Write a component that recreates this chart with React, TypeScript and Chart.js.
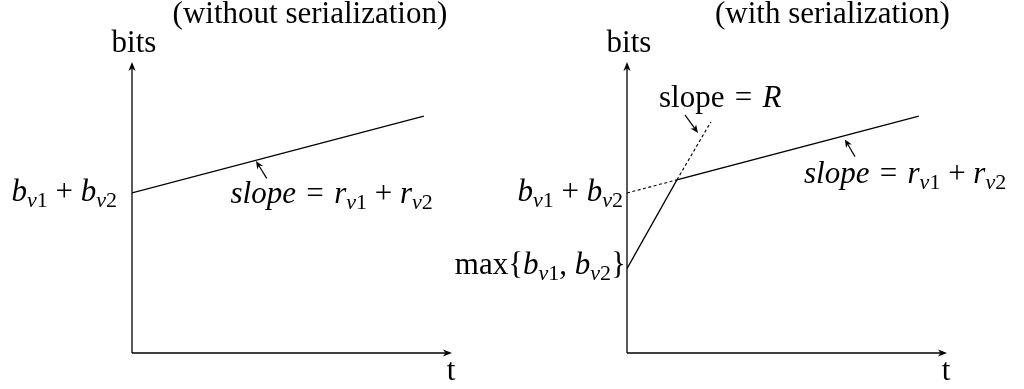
import React, { useEffect, useRef } from 'react';
import { Chart, registerables } from 'chart.js';

Chart.register(...registerables);

// Both axes run over arbitrary units 0..10
const T_RANGE = [0, 10];
const BITS_RANGE = [0, 10];

// Without serialization: one envelope, burst b_v1 + b_v2, rate r_v1 + r_v2
const plainT = [0, 9.12];
const plainBits = [5.5, 8.14];

// With serialization: line rate R up to the knee, then r_v1 + r_v2
const serialT = [0, 1.56, 9.12];
const serialBits = [2.9, 5.95, 8.14];

// Dashed: the aggregate envelope before the knee
const aggregateExtT = [0, 1.56];
const aggregateExtBits = [5.5, 5.95];

// Dashed: the line-rate segment continued past the knee
const lineRateExtT = [1.56, 2.62];
const lineRateExtBits = [5.95, 7.94];

type Run = { t: string; it?: boolean; sub?: boolean };
type Align = 'left' | 'center' | 'right';
type Note = { runs: Run[]; t: number; bits: number; align: Align };
type Pointer = { from: [number, number]; to: [number, number] };
type Level = { value: number; runs: Run[]; gap: number; drop: number };

const FONT = '"Liberation Serif", "Times New Roman", serif';
const F = 31;
const SUB = 0.7;
const EQ = '\u2004=\u2004';

const B_SUM: Run[] = [
  { t: 'b', it: true }, { t: 'v', it: true, sub: true }, { t: '1', sub: true },
  { t: ' + ' },
  { t: 'b', it: true }, { t: 'v', it: true, sub: true }, { t: '2', sub: true },
];
const B_MAX: Run[] = [
  { t: 'max{' },
  { t: 'b', it: true }, { t: 'v', it: true, sub: true }, { t: '1', sub: true },
  { t: ', ' },
  { t: 'b', it: true }, { t: 'v', it: true, sub: true }, { t: '2', sub: true },
  { t: '}' },
];
const SLOPE_SUM: Run[] = [
  { t: 'slope', it: true }, { t: EQ },
  { t: 'r', it: true }, { t: 'v', it: true, sub: true }, { t: '1', sub: true },
  { t: ' + ' },
  { t: 'r', it: true }, { t: 'v', it: true, sub: true }, { t: '2', sub: true },
];
const SLOPE_R: Run[] = [{ t: 'slope' + EQ }, { t: 'R', it: true }];

const pts = (xs: number[], ys: number[]) => xs.map((x, i) => ({ x, y: ys[i] }));

type Panel = {
  title: string;
  titleT: number;
  canvasLeft: number;
  canvasWidth: number;
  padding: { left: number; right: number; top: number; bottom: number };
  datasets: any[];
  levels: Level[];
  notes: Note[];
  pointers: Pointer[];
};

const solid = (data: { x: number; y: number }[]) => ({
  data, borderColor: '#000', borderWidth: 1.25, pointRadius: 0, tension: 0, fill: false,
});
const dashed = (data: { x: number; y: number }[]) => ({
  ...solid(data), borderWidth: 1.1, borderDash: [3, 2.5],
});

const LEFT_PANEL: Panel = {
  title: '(without serialization)',
  titleT: 5.56,
  canvasLeft: 0,
  canvasWidth: 512,
  padding: { left: 132, right: 60, top: 62, bottom: 36 },
  datasets: [solid(pts(plainT, plainBits))],
  levels: [{ value: plainBits[0], runs: B_SUM, gap: 15, drop: 8 }],
  notes: [{ runs: SLOPE_SUM, t: 3.08, bits: 5.15, align: 'left' }],
  pointers: [{ from: [4.21, 6.0], to: [3.875, 6.6] }],
};

const RIGHT_PANEL: Panel = {
  title: '(with serialization)',
  titleT: 6.42,
  canvasLeft: 400,
  canvasWidth: 624,
  padding: { left: 227, right: 77, top: 62, bottom: 36 },
  datasets: [
    solid(pts(serialT, serialBits)),
    dashed(pts(aggregateExtT, aggregateExtBits)),
    dashed(pts(lineRateExtT, lineRateExtBits)),
  ],
  levels: [
    { value: aggregateExtBits[0], runs: B_SUM, gap: 4, drop: 8 },
    { value: serialBits[0], runs: B_MAX, gap: 1, drop: 5 },
  ],
  notes: [
    { runs: SLOPE_R, t: 1.0, bits: 8.45, align: 'left' },
    { runs: SLOPE_SUM, t: 5.53, bits: 5.84, align: 'left' },
  ],
  pointers: [
    { from: [1.81, 8.18], to: [2.22, 7.56] },
    { from: [7.125, 6.75], to: [6.81, 7.34] },
  ],
};

function runFont(r: Run) {
  const size = r.sub ? Math.round(F * SUB) : F;
  return `${r.it ? 'italic ' : ''}${size}px ${FONT}`;
}

function drawRuns(ctx: CanvasRenderingContext2D, runs: Run[], x: number, y: number, align: Align) {
  ctx.save();
  ctx.fillStyle = '#000';
  ctx.textAlign = 'left';
  ctx.textBaseline = 'alphabetic';
  const widths = runs.map((r) => {
    ctx.font = runFont(r);
    return ctx.measureText(r.t).width;
  });
  const total = widths.reduce((a, b) => a + b, 0);
  let cx = align === 'left' ? x : align === 'right' ? x - total : x - total / 2;
  runs.forEach((r, i) => {
    ctx.font = runFont(r);
    ctx.fillText(r.t, cx, y + (r.sub ? F * 0.19 : 0));
    cx += widths[i];
  });
  ctx.restore();
}

function arrowHead(ctx: CanvasRenderingContext2D, x: number, y: number, angle: number, len: number, half: number) {
  ctx.save();
  ctx.translate(x, y);
  ctx.rotate(angle);
  ctx.beginPath();
  ctx.moveTo(0, 0);
  ctx.lineTo(-len, -half);
  ctx.lineTo(-len * 0.72, 0);
  ctx.lineTo(-len, half);
  ctx.closePath();
  ctx.fill();
  ctx.restore();
}

function arrow(ctx: CanvasRenderingContext2D, x1: number, y1: number, x2: number, y2: number, width: number, len: number, half: number) {
  const ang = Math.atan2(y2 - y1, x2 - x1);
  ctx.save();
  ctx.strokeStyle = '#000';
  ctx.fillStyle = '#000';
  ctx.lineWidth = width;
  ctx.beginPath();
  ctx.moveTo(x1, y1);
  ctx.lineTo(x2 - Math.cos(ang) * len * 0.7, y2 - Math.sin(ang) * len * 0.7);
  ctx.stroke();
  arrowHead(ctx, x2, y2, ang, len, half);
  ctx.restore();
}

function makeDecor(panel: Panel) {
  return {
    id: 'panelDecor',
    afterDraw(chart: Chart) {
      const ctx = chart.ctx;
      const xs = chart.scales.x;
      const ys = chart.scales.y;
      const { left, right, top, bottom } = chart.chartArea;
      const px = (t: number) => xs.getPixelForValue(t);
      const py = (b: number) => ys.getPixelForValue(b);

      // axes with arrow tips
      arrow(ctx, left, bottom, left, top, 1.3, 9, 3.6);
      arrow(ctx, left, bottom, right, bottom, 1.3, 9, 3.6);

      // axis names
      drawRuns(ctx, [{ t: 'bits' }], left + 2, top - 10, 'center');
      drawRuns(ctx, [{ t: 't' }], right - 1, bottom + 27, 'center');

      // panel title
      drawRuns(ctx, [{ t: panel.title }], px(panel.titleT), top - 39, 'center');

      // levels marked on the bits axis
      panel.levels.forEach((lv) => {
        drawRuns(ctx, lv.runs, left - lv.gap, py(lv.value) + lv.drop, 'right');
      });

      // slope notes and their pointers
      panel.notes.forEach((n) => drawRuns(ctx, n.runs, px(n.t), py(n.bits), n.align));
      panel.pointers.forEach((p) => {
        arrow(ctx, px(p.from[0]), py(p.from[1]), px(p.to[0]), py(p.to[1]), 1.2, 8, 3.4);
      });
    },
  };
}

function PanelChart({ panel }: { panel: Panel }) {
  const ref = useRef<HTMLCanvasElement>(null);
  useEffect(() => {
    const chart = new Chart(ref.current as HTMLCanvasElement, {
      type: 'line',
      data: { datasets: panel.datasets },
      options: {
        animation: false,
        responsive: false,
        events: [],
        layout: { padding: panel.padding },
        scales: {
          x: { type: 'linear', min: T_RANGE[0], max: T_RANGE[1], display: false },
          y: { type: 'linear', min: BITS_RANGE[0], max: BITS_RANGE[1], display: false },
        },
        plugins: { legend: { display: false }, tooltip: { enabled: false } },
      },
      plugins: [makeDecor(panel)],
    } as any);
    return () => chart.destroy();
  }, [panel]);
  return (
    <canvas
      ref={ref}
      width={panel.canvasWidth}
      height={389}
      style={{ position: 'absolute', top: 0, left: panel.canvasLeft, display: 'block', width: panel.canvasWidth, height: 389 }}
    />
  );
}

export default function App() {
  return (
    <div style={{ position: 'absolute', left: 0, top: 0, width: 1024, height: 389, background: '#fff' }}>
      <PanelChart panel={LEFT_PANEL} />
      <PanelChart panel={RIGHT_PANEL} />
    </div>
  );
}
